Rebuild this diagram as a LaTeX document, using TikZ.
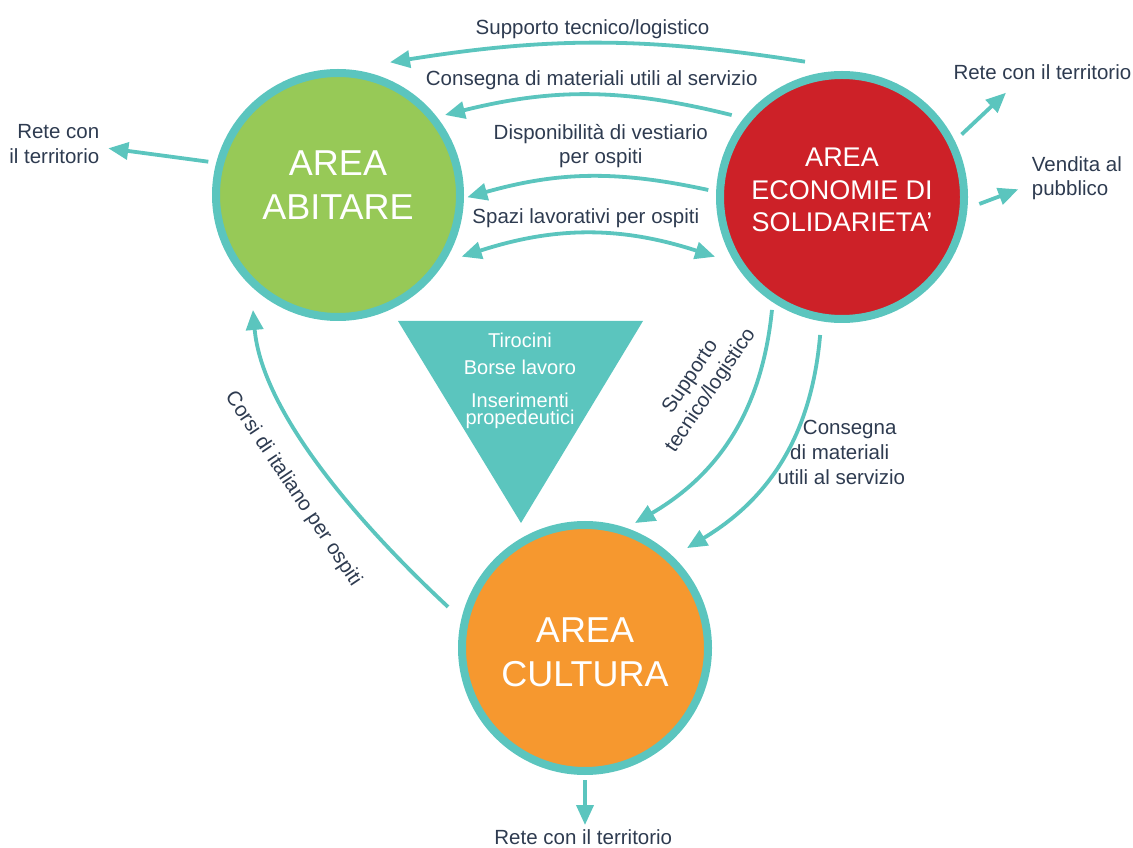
\documentclass[tikz,border=0pt]{standalone}
\usepackage{fontspec}
\setmainfont{Liberation Sans}
\usetikzlibrary{arrows.meta,calc}
\definecolor{cteal}{HTML}{5BC5BE}
\definecolor{cgreen}{HTML}{97C957}
\definecolor{cred}{HTML}{CD2128}
\definecolor{corange}{HTML}{F6982F}
\definecolor{ctext}{HTML}{2E3B50}
\begin{document}
\begin{tikzpicture}[x=1pt,y=1pt,
  area/.style={circle, draw=cteal, line width=8pt, minimum size=244pt, inner sep=0pt},
  arr/.style={draw=cteal, line width=3.8pt, -{Triangle[length=20pt,width=17pt]}},
  arrboth/.style={draw=cteal, line width=3.8pt, {Triangle[length=20pt,width=17pt]}-{Triangle[length=20pt,width=17pt]}},
  lbl/.style={text=ctext, font=\fontsize{20.5}{24.5}\selectfont, inner sep=0pt, anchor=base},
  rlbl/.style={text=ctext, font=\fontsize{20.5}{24.5}\selectfont, inner sep=0pt, align=center},
  big/.style={text=white, font=\fontsize{36}{44}\selectfont, align=center, inner sep=0pt},
  tri/.style={text=white, font=\fontsize{20}{24}\selectfont, inner sep=0pt, anchor=base},
]
\useasboundingbox (0,0) rectangle (1133,847);

% circles
\node[area, fill=cgreen] (green) at (338,652) {};
\node[area, fill=cred] (red) at (842,650) {};
\node[area, fill=corange, minimum size=246pt] (orange) at (585,199) {};
\node[big] (gt) at (338,662) {AREA\\ABITARE};
\node[big, font=\fontsize{27}{32.5}\selectfont] (rt) at (842,657) {AREA\\ECONOMIE DI\\SOLIDARIETA’};
\node[big] (ot) at (585,195) {AREA\\CULTURA};

% triangle
\fill[cteal] (398,526) -- (643,526) -- (521,324) -- cycle;
\node[tri] (t1) at (520,499) {Tirocini};
\node[tri] (t2) at (520,472) {Borse lavoro};
\node[tri] (t3) at (520,439) {Inserimenti};
\node[tri] (t4) at (520,422) {propedeutici};

% arrows between red and green
\draw[arr] ($(red.center)+(105.3:140.3)$) to[bend right=9] ($(green.center)+(68.6:142.5)$);
\draw[arr] ($(red.center)+(143.4:137.4)$) to[bend right=14] ($(green.center)+(36.8:133.6)$);
\draw[arr] ($(red.center)+(177:133.9)$) to[bend right=14] ($(green.center)+(-1:129.3)$);
\draw[arrboth] ($(green.center)+(-26.5:138.2)$) to[bend left=18] ($(red.center)+(205.2:140.3)$);

% arrows red -> orange
\draw[arr] ($(red.center)+(238.2:132.9)$) to[bend left=27] ($(orange.center)+(68.2:134.6)$);
\draw[arr] ($(red.center)+(261:139.7)$) to[bend left=27] ($(orange.center)+(44.4:142.8)$);

% arrow orange -> green
\draw[arr] ($(orange.center)+(163.3:143)$) .. controls +(137:130) and +(-85:100) .. ($(green.center)+(233.5:143)$);

% outward arrows
\coordinate (eL) at (108.3,698.7);
\coordinate (eR1) at (1006,754.3);
\coordinate (eR2) at (1018.3,657.7);
\coordinate (eB) at (585,22);
\draw[arr] ($(green.center)+(165.6:133.9)$) -- (eL);
\draw[arr] ($(red.center)+(27.6:135)$) -- (eR1);
\draw[arr] ($(red.center)+(-2.9:137.5)$) -- (eR2);
\draw[arr] ($(orange.center)+(-90:132)$) -- (eB);

% labels
\node[lbl] (a1) at (592.5,812.7) {Supporto tecnico/logistico};
\node[lbl] (a2) at (591.7,761) {Consegna di materiali utili al servizio};
\node[lbl] (a3a) at (600.8,707) {Disponibilità di vestiario};
\node[lbl] (a3b) at (600.8,683.7) {per ospiti};
\node[lbl] (a4) at (585.8,623.7) {Spazi lavorativi per ospiti};

\node[lbl, anchor=base east] (lr1) at (99.5,708.7) {Rete con};
\node[lbl, anchor=base east] (lr2) at (99.5,683.7) {il territorio};
\node[lbl, anchor=base west] (rr) at (953.3,767) {Rete con il territorio};
\node[lbl, anchor=base west] (v1) at (1031.7,675.3) {Vendita al};
\node[lbl, anchor=base west] (v2) at (1031.7,651.3) {pubblico};
\node[lbl] (br) at (583.3,3) {Rete con il territorio};

\node[lbl] (c1) at (849.7,412) {Consegna};
\node[lbl] (c2) at (839.7,387) {di materiali};
\node[lbl] (c3) at (841.3,362) {utili al servizio};

\node[rlbl, rotate=56] (st) at (701,463) {Supporto\\tecnico/logistico};
\node[rlbl, rotate=-56.2] (ci) at (293,358) {Corsi di italiano per ospiti};
\end{tikzpicture}
\end{document}
